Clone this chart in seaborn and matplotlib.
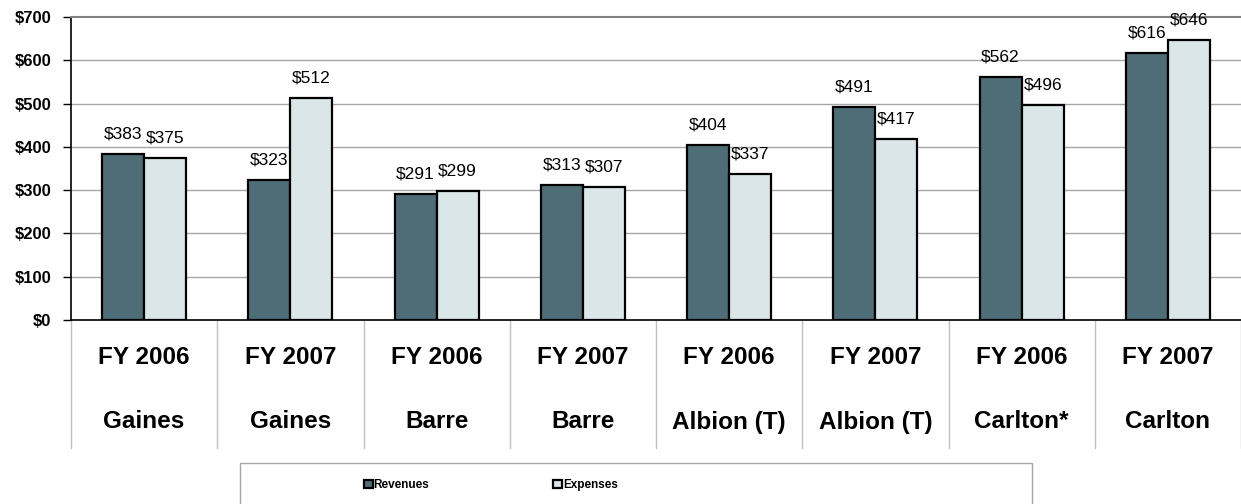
import numpy as np
import pandas as pd
import seaborn as sns
import matplotlib.pyplot as plt
from matplotlib.patches import Rectangle

years = ['FY 2006', 'FY 2007', 'FY 2006', 'FY 2007', 'FY 2006', 'FY 2007', 'FY 2006', 'FY 2007']
places = ['Gaines', 'Gaines', 'Barre', 'Barre', 'Albion (T)', 'Albion (T)', 'Carlton*', 'Carlton']
revenues = [383, 323, 291, 313, 404, 491, 562, 616]
expenses = [375, 512, 299, 307, 337, 417, 496, 646]
yticks = [0, 100, 200, 300, 400, 500, 600, 700]

n = len(years)
df = pd.DataFrame({
    'slot': list(range(n)) * 2,
    'value': revenues + expenses,
    'series': ['Revenues'] * n + ['Expenses'] * n,
})

sns.set_style('white')
plt.rcParams['font.family'] = ['Liberation Sans', 'DejaVu Sans']
plt.rcParams['text.color'] = 'black'
plt.rcParams['ytick.color'] = 'black'
plt.rcParams['ytick.labelcolor'] = 'black'

fig = plt.figure(figsize=(12.41, 5.04), dpi=100)
ax = fig.add_axes([71 / 1241, (504 - 320) / 504, 1 - 71 / 1241, 303 / 504])

sns.barplot(data=df, x='slot', y='value', hue='series', ax=ax,
            palette={'Revenues': '#4F6D76', 'Expenses': '#DAE6E8'},
            width=0.575, edgecolor='black', linewidth=1.6, saturation=1)

ax.set_xlim(-0.5, n - 0.5)
ax.set_ylim(0, 700)
ax.set_yticks(yticks)
ax.set_yticklabels([f'${v}' for v in yticks], fontsize=12, fontweight='bold', color='black')
ax.tick_params(axis='y', direction='out', length=6, width=1, color='black', pad=8, left=True)
ax.set_xticks([])
ax.set_xlabel('')
ax.set_ylabel('')

for v in yticks[1:-1]:
    ax.axhline(v, color='#A6A6A6', lw=1, zorder=0)

ax.spines['right'].set_visible(False)
ax.spines['top'].set_color('#808080')
ax.spines['top'].set_linewidth(1.5)
ax.spines['left'].set_color('black')
ax.spines['bottom'].set_color('black')
ax.spines['left'].set_linewidth(1.2)
ax.spines['bottom'].set_linewidth(1.2)

for cont in ax.containers:
    ax.bar_label(cont, labels=[f'${v:.0f}' for v in cont.datavalues], padding=9, fontsize=12.5, color='black')

trans = ax.get_xaxis_transform()
for i in range(n + 1):
    ax.plot([i - 0.5, i - 0.5], [0, -128 / 303], color='#BFBFBF', lw=1, transform=trans, clip_on=False)
for i in range(n):
    ax.text(i, -37 / 303, years[i], transform=trans, ha='center', va='center', fontsize=17.5, fontweight='bold', color='black')
    ax.text(i, -102 / 303, places[i], transform=trans, ha='center', va='center', fontsize=17.5, fontweight='bold', color='black')

handles, labels = ax.get_legend_handles_labels()
ax.get_legend().remove()
fig.patches.append(Rectangle((240 / 1241, -0.01), (1032 - 240) / 1241, 0.01 + (504 - 463) / 504,
                             transform=fig.transFigure, facecolor='white', edgecolor='#A6A6A6', lw=1))
leg = fig.legend(handles, labels, loc='center', bbox_to_anchor=(491 / 1241, (504 - 485) / 504),
                 ncol=2, frameon=False, handlelength=0.75, handleheight=0.75, handletextpad=0.1,
                 columnspacing=10.5, prop={'weight': 'bold', 'size': 8.5})

fig.savefig('out.png', dpi=100)
